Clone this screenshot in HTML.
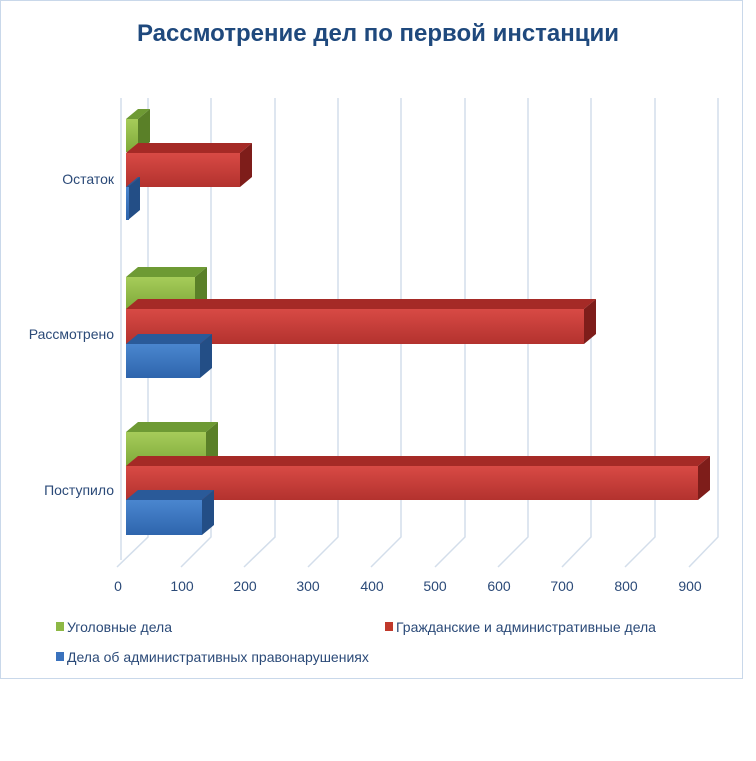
<!DOCTYPE html>
<html><head><meta charset="utf-8"><style>
html,body{margin:0;padding:0;background:#fff;}
svg text{font-family:"Liberation Sans","DejaVu Sans",sans-serif;}
</style></head><body>
<svg width="756" height="756" viewBox="0 0 756 756" xmlns="http://www.w3.org/2000/svg">
<defs>
<linearGradient id="gG" x1="0" y1="0" x2="0" y2="1"><stop offset="0" stop-color="#a6cc5a"/><stop offset="1" stop-color="#7fa93a"/></linearGradient>
<linearGradient id="gR" x1="0" y1="0" x2="0" y2="1"><stop offset="0" stop-color="#d84a45"/><stop offset="1" stop-color="#b3322e"/></linearGradient>
<linearGradient id="gB" x1="0" y1="0" x2="0" y2="1"><stop offset="0" stop-color="#4a86cf"/><stop offset="1" stop-color="#2e65ad"/></linearGradient>
</defs>
<rect x="0.5" y="0.5" width="742" height="678" fill="#fff" stroke="#c9d8ea"/>
<text x="378" y="41" text-anchor="middle" font-size="24" font-weight="bold" fill="#1f497d">Рассмотрение дел по первой инстанции</text>
<g stroke="#d3deeb" stroke-width="1.5" fill="none">
<line x1="121" y1="98" x2="121" y2="560"/>
<path d="M148 98V537L117 567"/><path d="M211 98V537L181 567"/><path d="M275 98V537L244 567"/>
<path d="M338 98V537L308 567"/><path d="M401 98V537L371 567"/><path d="M465 98V537L435 567"/>
<path d="M528 98V537L498 567"/><path d="M591 98V537L562 567"/><path d="M655 98V537L625 567"/>
<path d="M718 98V537L689 567"/>
</g>
<g font-size="14" fill="#2b4a78" text-anchor="middle">
<text x="118" y="591">0</text><text x="182" y="591">100</text><text x="245" y="591">200</text><text x="308" y="591">300</text><text x="372" y="591">400</text><text x="435" y="591">500</text><text x="499" y="591">600</text><text x="562" y="591">700</text><text x="626" y="591">800</text><text x="690" y="591">900</text>
</g>
<g font-size="14" fill="#2b4a78" text-anchor="end">
<text x="114" y="184">Остаток</text><text x="114" y="339">Рассмотрено</text><text x="114" y="495">Поступило</text>
</g>
<!-- bars: helper shapes -->
<!-- Остаток -->
<polygon points="126,119 138,109 150,109 138,119" fill="#6e9a34"/><polygon points="138,119 150,109 150,142 138,152" fill="#5a8028"/><rect x="126" y="119" width="12" height="33" fill="url(#gG)"/>
<polygon points="126,153 138,143 252,143 240,153" fill="#a52a26"/><polygon points="240,153 252,143 252,177 240,187" fill="#7e1d1a"/><rect x="126" y="153" width="114" height="34" fill="url(#gR)"/>
<polygon points="126,187 138,177 140,177 128,187" fill="#2a5a99"/><polygon points="128,187 140,177 140,210 128,220" fill="#234e86"/><rect x="126" y="187" width="3" height="33" fill="url(#gB)"/>
<!-- Рассмотрено -->
<polygon points="126,277 138,267 207,267 195,277" fill="#6e9a34"/><polygon points="195,277 207,267 207,299 195,309" fill="#5a8028"/><rect x="126" y="277" width="69" height="32" fill="url(#gG)"/>
<polygon points="126,309 138,299 596,299 584,309" fill="#a52a26"/><polygon points="584,309 596,299 596,334 584,344" fill="#7e1d1a"/><rect x="126" y="309" width="458" height="35" fill="url(#gR)"/>
<polygon points="126,344 138,334 212,334 200,344" fill="#2a5a99"/><polygon points="200,344 212,334 212,368 200,378" fill="#234e86"/><rect x="126" y="344" width="74" height="34" fill="url(#gB)"/>
<!-- Поступило -->
<polygon points="126,432 138,422 218,422 206,432" fill="#6e9a34"/><polygon points="206,432 218,422 218,456 206,466" fill="#5a8028"/><rect x="126" y="432" width="80" height="34" fill="url(#gG)"/>
<polygon points="126,466 138,456 710,456 698,466" fill="#a52a26"/><polygon points="698,466 710,456 710,490 698,500" fill="#7e1d1a"/><rect x="126" y="466" width="572" height="34" fill="url(#gR)"/>
<polygon points="126,500 138,490 214,490 202,500" fill="#2a5a99"/><polygon points="202,500 214,490 214,525 202,535" fill="#234e86"/><rect x="126" y="500" width="76" height="35" fill="url(#gB)"/>
<!-- legend -->
<rect x="56" y="622" width="8" height="9" fill="#8db845"/>
<text x="67" y="632" font-size="14" fill="#2b4a78">Уголовные дела</text>
<rect x="385" y="622" width="8" height="9" fill="#c0392b"/>
<text x="396" y="632" font-size="14" fill="#2b4a78">Гражданские и административные дела</text>
<rect x="56" y="652" width="8" height="9" fill="#3a72bd"/>
<text x="67" y="662" font-size="14" fill="#2b4a78">Дела об административных правонарушениях</text>
</svg>
</body></html>
